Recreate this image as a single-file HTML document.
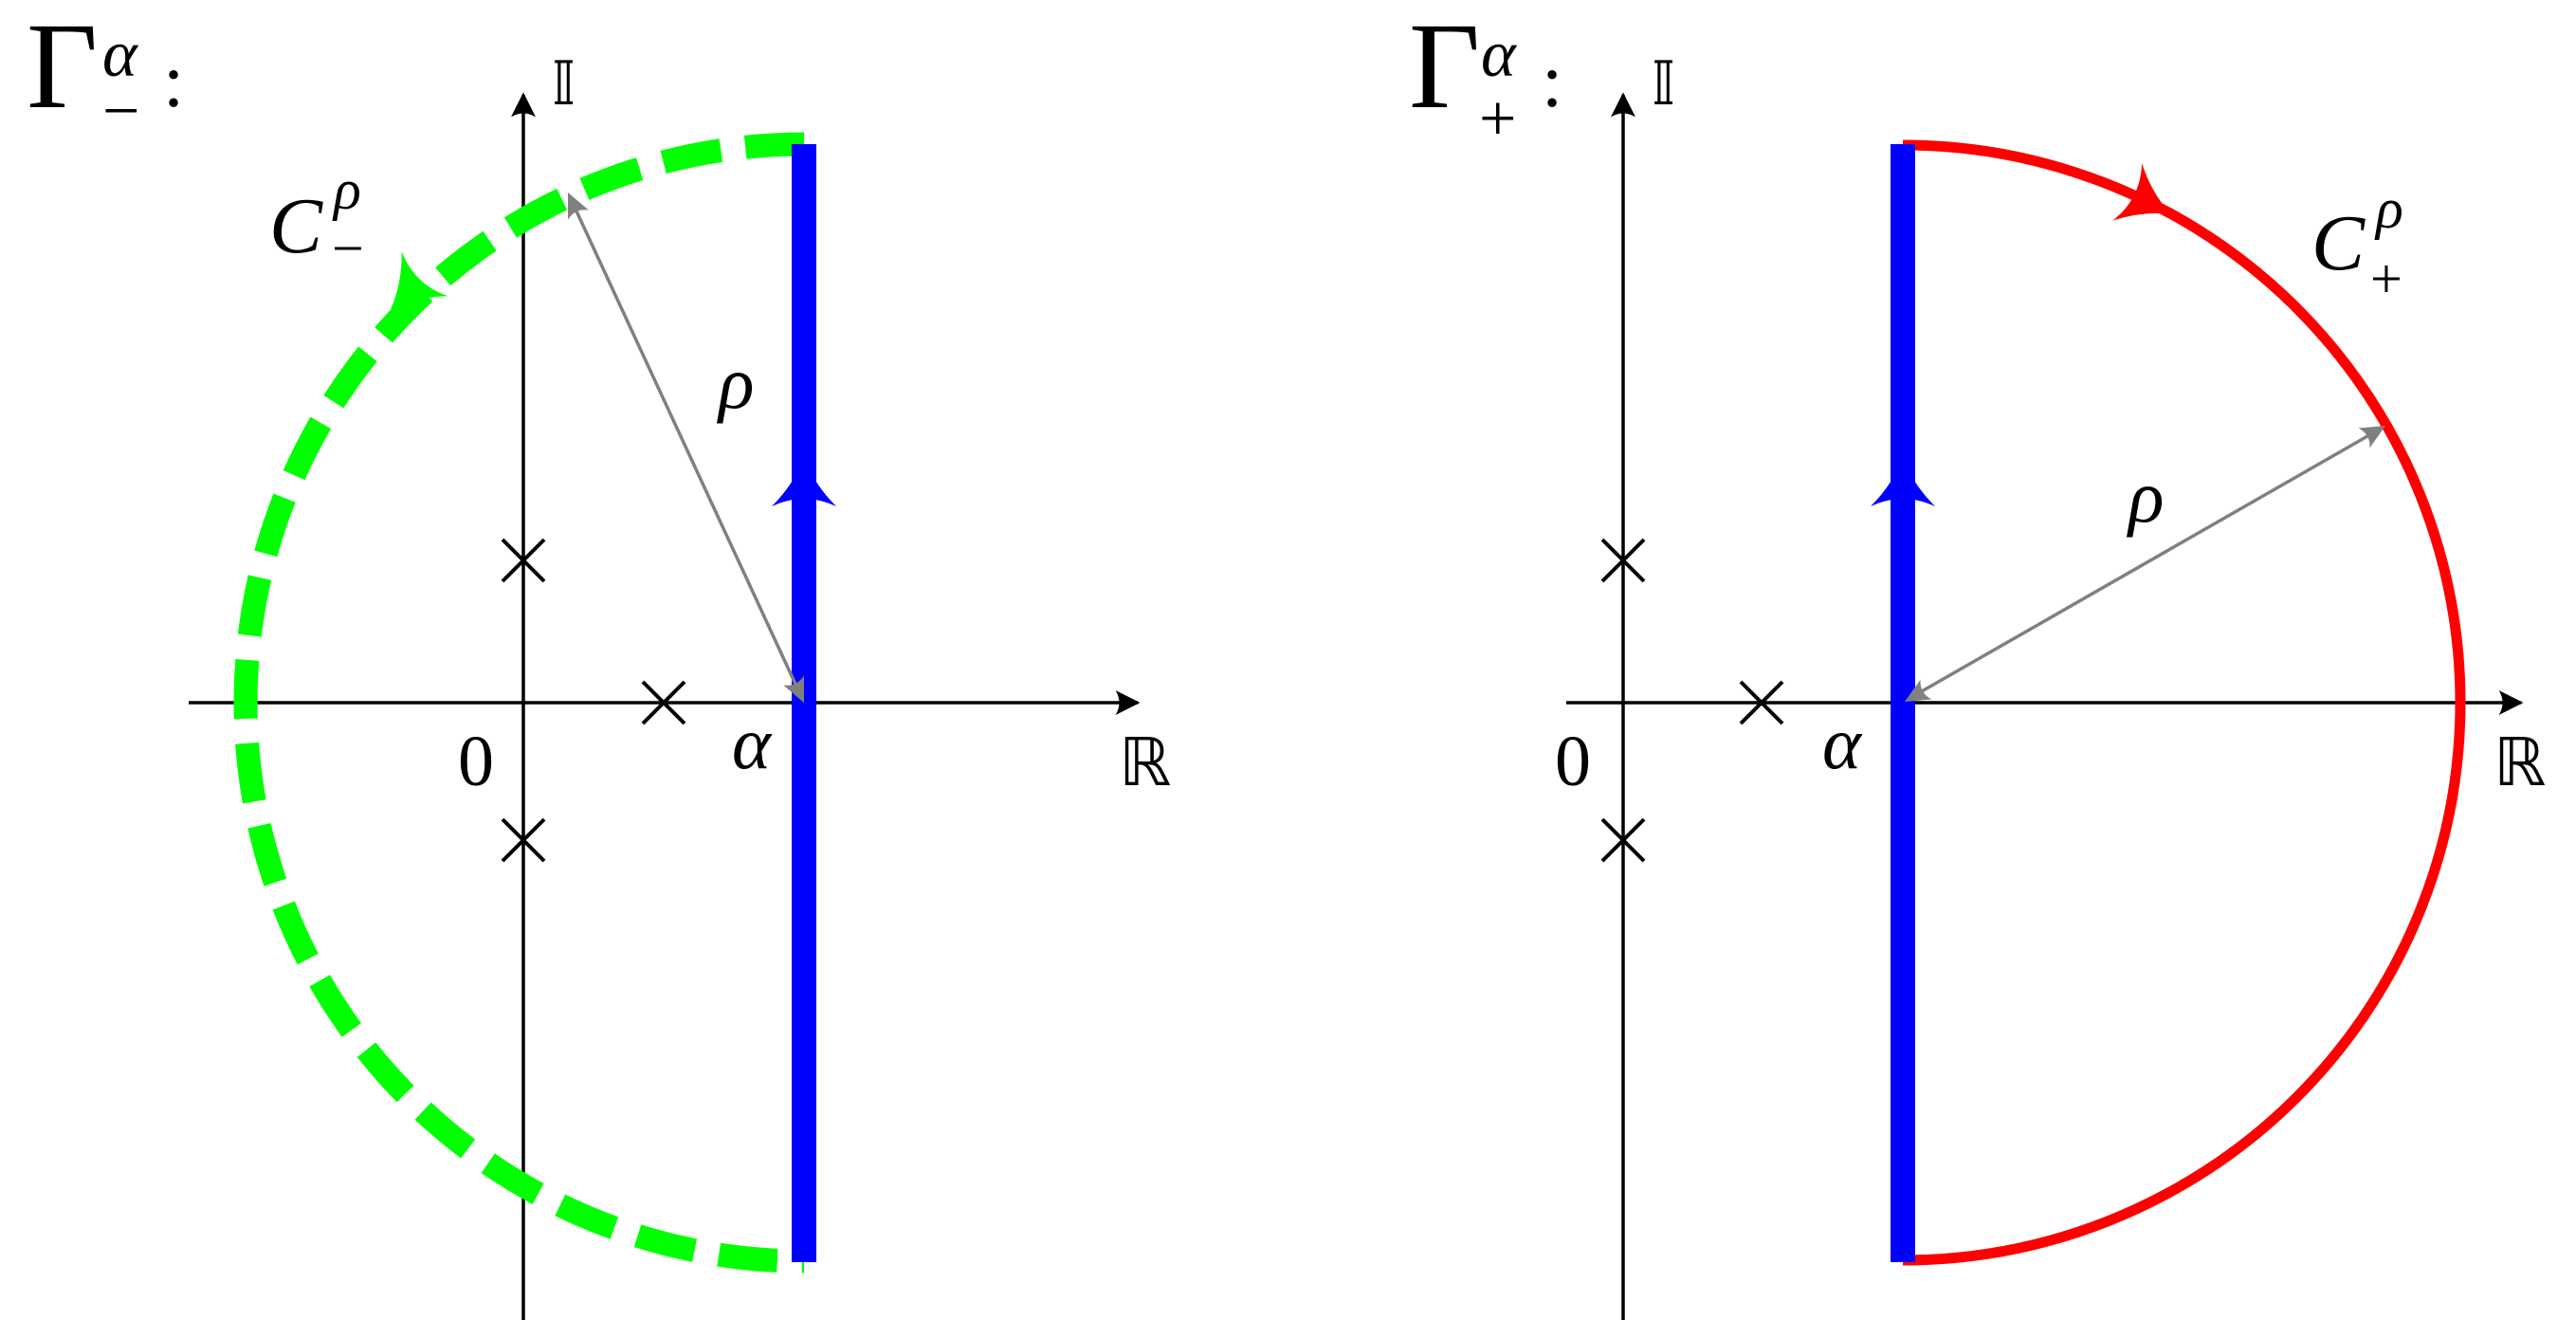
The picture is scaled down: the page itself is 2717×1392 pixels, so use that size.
<!DOCTYPE html>
<html><head><meta charset="utf-8"><style>html,body{margin:0;padding:0;background:#fff}svg{display:block}</style></head>
<body>
<svg width="2717" height="1392" viewBox="0 0 2717 1392" xmlns="http://www.w3.org/2000/svg" font-family="'Liberation Serif', serif">
<defs>
<marker id="ka" viewBox="0 0 20 20" refX="18" refY="10" markerWidth="26" markerHeight="26" orient="auto" markerUnits="userSpaceOnUse">
<path d="M20 10 L0 0 Q6 10 0 20 Z" fill="#000"/></marker>
<path id="st" d="M0 0 Q-28 -10 -52 -34 Q-36 0 -52 34 Q-28 10 0 0 Z"/>
</defs>

<!-- LEFT PANEL -->
<line x1="199" y1="741" x2="1200" y2="741" stroke="#000" stroke-width="3.5" marker-end="url(#ka)"/>
<line x1="552" y1="1392" x2="552" y2="100" stroke="#000" stroke-width="3.5" marker-end="url(#ka)"/>
<path d="M848 152 A589 589 0 0 0 848 1330" fill="none" stroke="#00ff00" stroke-width="25" stroke-dasharray="62 26"/>
<line x1="848" y1="152" x2="848" y2="1331" stroke="#0000ff" stroke-width="26"/>
<use href="#st" fill="#00ff00" transform="translate(412 326) rotate(134)"/>
<use href="#st" fill="#0000ff" transform="translate(848 482) rotate(-90)"/>
<line x1="843" y1="730" x2="604" y2="214" stroke="#808080" stroke-width="3.5"/>
<path d="M0 0 L-26 -12 Q-18 0 -26 12 Z" fill="#808080" transform="translate(848 741) rotate(65.1)"/>
<path d="M0 0 L-26 -12 Q-18 0 -26 12 Z" fill="#808080" transform="translate(599 203) rotate(-114.9)"/>
<g stroke="#000" stroke-width="4">
<path d="M530 569 L574 613 M574 569 L530 613"/>
<path d="M530 864 L574 908 M574 864 L530 908"/>
<path d="M678 719 L722 763 M722 719 L678 763"/>
</g>
<text x="28" y="113" font-size="130">Γ</text>
<text x="108" y="80" font-size="70" font-style="italic">α</text>
<text x="108" y="140" font-size="70">−</text>
<text x="172" y="112" font-size="80">:</text>
<text x="582" y="110" font-size="64">𝕀</text>
<text x="284" y="266" font-size="84" font-style="italic">C</text>
<text x="352" y="220" font-size="60" font-style="italic">ρ</text>
<text x="350" y="282" font-size="60">−</text>
<text x="758" y="430" font-size="78" font-style="italic">ρ</text>
<text x="772" y="810" font-size="78" font-style="italic">α</text>
<text x="483" y="828" font-size="76">0</text>
<text x="1180" y="828" font-size="70">ℝ</text>

<!-- RIGHT PANEL -->
<line x1="1652" y1="741" x2="2659" y2="741" stroke="#000" stroke-width="3.5" marker-end="url(#ka)"/>
<line x1="1712" y1="1392" x2="1712" y2="100" stroke="#000" stroke-width="3.5" marker-end="url(#ka)"/>
<path d="M2007 153 A588 588 0 0 1 2007 1329" fill="none" stroke="#ff0000" stroke-width="11"/>
<line x1="2007" y1="152" x2="2007" y2="1331" stroke="#0000ff" stroke-width="26"/>
<use href="#st" fill="#ff0000" transform="translate(2290 226) rotate(27)"/>
<use href="#st" fill="#0000ff" transform="translate(2007 482) rotate(-90)"/>
<line x1="2020" y1="733" x2="2504" y2="456" stroke="#808080" stroke-width="3.5"/>
<path d="M0 0 L-26 -12 Q-18 0 -26 12 Z" fill="#808080" transform="translate(2516 449) rotate(-29.8)"/>
<path d="M0 0 L-26 -12 Q-18 0 -26 12 Z" fill="#808080" transform="translate(2009 740) rotate(150.2)"/>
<g stroke="#000" stroke-width="4">
<path d="M1690 569 L1734 613 M1734 569 L1690 613"/>
<path d="M1690 864 L1734 908 M1734 864 L1690 908"/>
<path d="M1836 719 L1880 763 M1880 719 L1836 763"/>
</g>
<text x="1486" y="113" font-size="130">Γ</text>
<text x="1562" y="80" font-size="70" font-style="italic">α</text>
<text x="1560" y="148" font-size="70">+</text>
<text x="1626" y="112" font-size="80">:</text>
<text x="1742" y="110" font-size="64">𝕀</text>
<text x="2438" y="284" font-size="84" font-style="italic">C</text>
<text x="2506" y="240" font-size="60" font-style="italic">ρ</text>
<text x="2500" y="314" font-size="60">+</text>
<text x="2245" y="550" font-size="78" font-style="italic">ρ</text>
<text x="1922" y="810" font-size="78" font-style="italic">α</text>
<text x="1640" y="828" font-size="76">0</text>
<text x="2630" y="828" font-size="70">ℝ</text>
</svg>
</body></html>
